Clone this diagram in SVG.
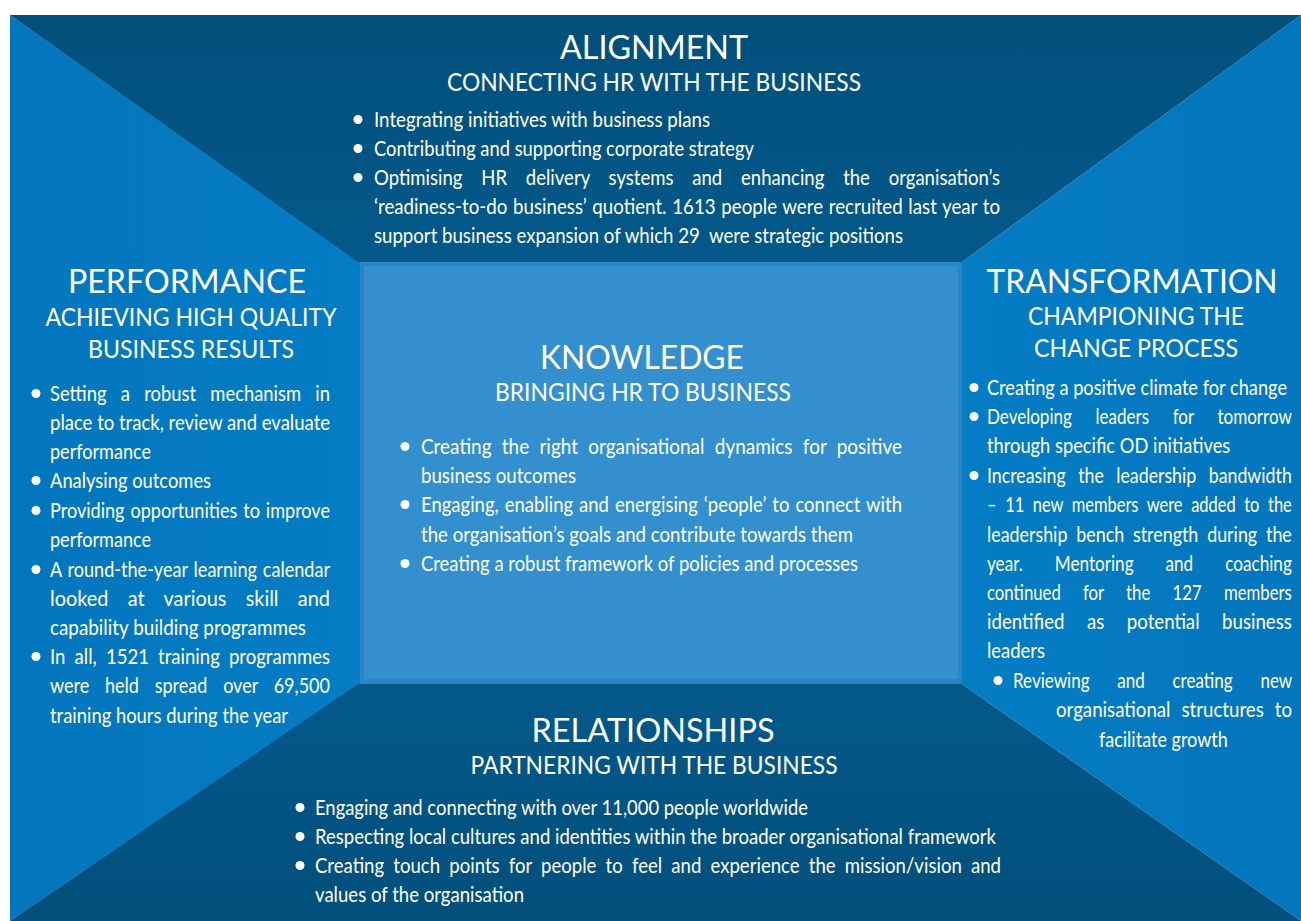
<svg xmlns="http://www.w3.org/2000/svg" width="1301" height="921" viewBox="0 0 1301 921">
  <defs>
    <linearGradient id="gTop" x1="0" y1="0" x2="0" y2="1">
      <stop offset="0" stop-color="#024f7b"/>
      <stop offset="1" stop-color="#04598a"/>
    </linearGradient>
    <linearGradient id="gBottom" x1="0" y1="0" x2="0" y2="1">
      <stop offset="0" stop-color="#04598a"/>
      <stop offset="1" stop-color="#024f7b"/>
    </linearGradient>
    <linearGradient id="gLeft" x1="0" y1="0" x2="1" y2="0">
      <stop offset="0" stop-color="#0476bd"/>
      <stop offset="1" stop-color="#047dc4"/>
    </linearGradient>
    <linearGradient id="gRight" x1="1" y1="0" x2="0" y2="0">
      <stop offset="0" stop-color="#0476bd"/>
      <stop offset="1" stop-color="#047dc4"/>
    </linearGradient>
    <style>
      text { fill: #ffffff; font-family: Lato, "Open Sans", "Liberation Sans", sans-serif; }
      .t { font-size: 33px; text-anchor: middle; }
      .s { font-size: 25px; text-anchor: middle; }
      .b { font-size: 21px; }
      .pre { white-space: pre; }
      .dot { fill: #ffffff; }
    </style>
  </defs>

  <rect width="1301" height="921" fill="#ffffff"/>

  <!-- panel shapes -->
  <g id="panels">
    <polygon points="10,15 360,262 360,684 10,921" fill="url(#gLeft)"/>
    <polygon points="1301,15 962,262 962,684 1301,921" fill="url(#gRight)"/>
    <polygon points="10,15 1301,15 962,262 358,262" fill="url(#gTop)"/>
    <polygon points="358,684 962,684 1301,921 10,921" fill="url(#gBottom)"/>
    <rect x="360" y="262" width="602" height="422" fill="#2a85c6"/>
    <rect x="364" y="266" width="594" height="413" fill="#348fcf"/>
  </g>

  <!-- top panel -->
  <g id="alignment">
    <text class="t" x="654" y="59" textLength="188" lengthAdjust="spacingAndGlyphs">ALIGNMENT</text>
    <text class="s" x="654" y="91" textLength="414" lengthAdjust="spacingAndGlyphs">CONNECTING HR WITH THE BUSINESS</text>
    <circle class="dot" cx="358" cy="119.5" r="4.5"/>
    <circle class="dot" cx="358" cy="148.5" r="4.5"/>
    <circle class="dot" cx="358" cy="177.5" r="4.5"/>
    <text class="b" x="374" y="127" textLength="336" lengthAdjust="spacingAndGlyphs">Integrating initiatives with business plans</text>
    <text class="b" x="374" y="156" textLength="380" lengthAdjust="spacingAndGlyphs">Contributing and supporting corporate strategy</text>
    <text class="b" x="374" y="185" textLength="626" lengthAdjust="spacingAndGlyphs" style="word-spacing:16px">Optimising HR delivery systems and enhancing the organisation’s</text>
    <text class="b" x="374" y="214" textLength="626" lengthAdjust="spacingAndGlyphs" style="word-spacing:1px">‘readiness-to-do business’ quotient. 1613 people were recruited last year to</text>
    <text class="b pre" x="374" y="243" textLength="529" lengthAdjust="spacingAndGlyphs">support business expansion of which 29  were strategic positions</text>
  </g>

  <!-- left panel -->
  <g id="performance">
    <text class="t" x="187" y="293" textLength="238" lengthAdjust="spacingAndGlyphs">PERFORMANCE</text>
    <text class="s" x="191" y="326" textLength="291" lengthAdjust="spacingAndGlyphs">ACHIEVING HIGH QUALITY</text>
    <text class="s" x="191" y="358" textLength="206" lengthAdjust="spacingAndGlyphs">BUSINESS RESULTS</text>
    <circle class="dot" cx="36" cy="393.5" r="4.5"/>
    <circle class="dot" cx="36" cy="480.5" r="4.5"/>
    <circle class="dot" cx="36" cy="510.5" r="4.5"/>
    <circle class="dot" cx="36" cy="569.5" r="4.5"/>
    <circle class="dot" cx="36" cy="656.5" r="4.5"/>
    <text class="b" x="50" y="401" textLength="280" lengthAdjust="spacingAndGlyphs" style="word-spacing:11px">Setting a robust mechanism in</text>
    <text class="b" x="50" y="430" textLength="280" lengthAdjust="spacingAndGlyphs">place to track, review and evaluate</text>
    <text class="b" x="50" y="459" textLength="101" lengthAdjust="spacingAndGlyphs">performance</text>
    <text class="b" x="50" y="488" textLength="161" lengthAdjust="spacingAndGlyphs">Analysing outcomes</text>
    <text class="b" x="50" y="518" textLength="280" lengthAdjust="spacingAndGlyphs" style="word-spacing:1.5px">Providing opportunities to improve</text>
    <text class="b" x="50" y="547" textLength="101" lengthAdjust="spacingAndGlyphs">performance</text>
    <text class="b" x="50" y="577" textLength="280" lengthAdjust="spacingAndGlyphs" style="word-spacing:1.5px">A round-the-year learning calendar</text>
    <text class="b" x="50" y="606" textLength="280" lengthAdjust="spacingAndGlyphs" style="word-spacing:15px">looked at various skill and</text>
    <text class="b" x="50" y="635" textLength="256" lengthAdjust="spacingAndGlyphs">capability building programmes</text>
    <text class="b" x="50" y="664" textLength="280" lengthAdjust="spacingAndGlyphs" style="word-spacing:5px">In all, 1521 training programmes</text>
    <text class="b" x="50" y="693" textLength="280" lengthAdjust="spacingAndGlyphs" style="word-spacing:13px">were held spread over 69,500</text>
    <text class="b" x="50" y="723" textLength="238" lengthAdjust="spacingAndGlyphs">training hours during the year</text>
  </g>

  <!-- centre panel -->
  <g id="knowledge">
    <text class="t" x="642" y="369" textLength="204" lengthAdjust="spacingAndGlyphs">KNOWLEDGE</text>
    <text class="s" x="643" y="401" textLength="296" lengthAdjust="spacingAndGlyphs">BRINGING HR TO BUSINESS</text>
    <circle class="dot" cx="405" cy="446.5" r="4.5"/>
    <circle class="dot" cx="405" cy="504.5" r="4.5"/>
    <circle class="dot" cx="405" cy="563.5" r="4.5"/>
    <text class="b" x="421" y="454" textLength="481" lengthAdjust="spacingAndGlyphs" style="word-spacing:6px">Creating the right organisational dynamics for positive</text>
    <text class="b" x="421" y="483" textLength="155" lengthAdjust="spacingAndGlyphs">business outcomes</text>
    <text class="b" x="421" y="512" textLength="481" lengthAdjust="spacingAndGlyphs" style="word-spacing:1.5px">Engaging, enabling and energising ‘people’ to connect with</text>
    <text class="b" x="421" y="542" textLength="432" lengthAdjust="spacingAndGlyphs">the organisation’s goals and contribute towards them</text>
    <text class="b" x="421" y="571" textLength="437" lengthAdjust="spacingAndGlyphs">Creating a robust framework of policies and processes</text>
  </g>

  <!-- right panel -->
  <g id="transformation">
    <text class="t" x="1132" y="293" textLength="291" lengthAdjust="spacingAndGlyphs">TRANSFORMATION</text>
    <text class="s" x="1136" y="325" textLength="216" lengthAdjust="spacingAndGlyphs">CHAMPIONING THE</text>
    <text class="s" x="1136" y="357" textLength="204" lengthAdjust="spacingAndGlyphs">CHANGE PROCESS</text>
    <circle class="dot" cx="974" cy="387.5" r="4.5"/>
    <circle class="dot" cx="974" cy="416.5" r="4.5"/>
    <circle class="dot" cx="974" cy="475.5" r="4.5"/>
    <circle class="dot" cx="998" cy="680.5" r="4.5"/>
    <!-- body lines set in a horizontally condensed frame anchored at x=987 -->
    <g transform="translate(987 0) scale(0.8 1) translate(-987 0)">
      <text class="b" x="987" y="395" textLength="375" lengthAdjust="spacingAndGlyphs">Creating a positive climate for change</text>
      <text class="b" x="987" y="424" textLength="381" lengthAdjust="spacingAndGlyphs" style="word-spacing:23.75px">Developing leaders for tomorrow</text>
      <text class="b" x="987" y="453" textLength="304" lengthAdjust="spacingAndGlyphs">through specific OD initiatives</text>
      <text class="b" x="987" y="483" textLength="381" lengthAdjust="spacingAndGlyphs" style="word-spacing:9.4px">Increasing the leadership bandwidth</text>
      <text class="b" x="987" y="512" textLength="381" lengthAdjust="spacingAndGlyphs" style="word-spacing:5.6px">– 11 new members were added to the</text>
      <text class="b" x="987" y="542" textLength="381" lengthAdjust="spacingAndGlyphs" style="word-spacing:5px">leadership bench strength during the</text>
      <text class="b" x="987" y="571" textLength="381" lengthAdjust="spacingAndGlyphs" style="word-spacing:33.75px">year. Mentoring and coaching</text>
      <text class="b" x="987" y="600" textLength="381" lengthAdjust="spacingAndGlyphs" style="word-spacing:22.5px">continued for the 127 members</text>
      <text class="b" x="987" y="629" textLength="381" lengthAdjust="spacingAndGlyphs" style="word-spacing:20px">identified as potential business</text>
      <text class="b" x="987" y="658" textLength="72.5" lengthAdjust="spacingAndGlyphs">leaders</text>
      <text class="b" x="1019.5" y="688" textLength="349" lengthAdjust="spacingAndGlyphs" style="word-spacing:28.75px">Reviewing and creating new</text>
      <text class="b" x="1073.25" y="717" textLength="295" lengthAdjust="spacingAndGlyphs" style="word-spacing:6.9px">organisational structures to</text>
      <text class="b" x="1127" y="747" textLength="161" lengthAdjust="spacingAndGlyphs">facilitate growth</text>
    </g>
  </g>

  <!-- bottom panel -->
  <g id="relationships">
    <text class="t" x="653" y="742" textLength="243" lengthAdjust="spacingAndGlyphs">RELATIONSHIPS</text>
    <text class="s" x="654" y="774" textLength="367" lengthAdjust="spacingAndGlyphs">PARTNERING WITH THE BUSINESS</text>
    <circle class="dot" cx="300" cy="807.5" r="4.5"/>
    <circle class="dot" cx="300" cy="836.5" r="4.5"/>
    <circle class="dot" cx="300" cy="865.5" r="4.5"/>
    <text class="b" x="315" y="815" textLength="493" lengthAdjust="spacingAndGlyphs">Engaging and connecting with over 11,000 people worldwide</text>
    <text class="b" x="315" y="844" textLength="681" lengthAdjust="spacingAndGlyphs">Respecting local cultures and identities within the broader organisational framework</text>
    <text class="b" x="315" y="873" textLength="686" lengthAdjust="spacingAndGlyphs" style="word-spacing:5px">Creating touch points for people to feel and experience the mission/vision and</text>
    <text class="b" x="315" y="902" textLength="209" lengthAdjust="spacingAndGlyphs">values of the organisation</text>
  </g>
</svg>
